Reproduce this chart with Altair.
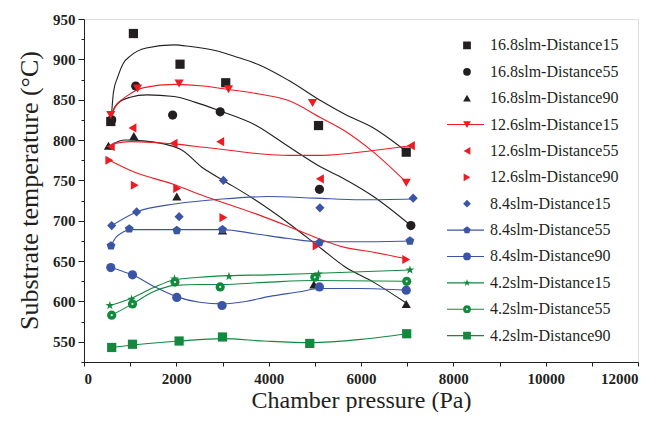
import altair as alt
import pandas as pd

# ---------------- series names, colours, markers ----------------
series = [
    "16.8slm-Distance15", "16.8slm-Distance55", "16.8slm-Distance90",
    "12.6slm-Distance15", "12.6slm-Distance55", "12.6slm-Distance90",
    "8.4slm-Distance15", "8.4slm-Distance55", "8.4slm-Distance90",
    "4.2slm-Distance15", "4.2slm-Distance55", "4.2slm-Distance90",
]
colors = ["#231f20"] * 3 + ["#ed1c24"] * 3 + ["#3a55a5"] * 3 + ["#12893f"] * 3
PENT = "M0,-1L0.951,-0.309L0.588,0.809L-0.588,0.809L-0.951,-0.309Z"
STAR = ("M0,-1L0.2245,-0.309L0.951,-0.309L0.363,0.118L0.588,0.809L0,0.382"
        "L-0.588,0.809L-0.363,0.118L-0.951,-0.309L-0.2245,-0.309Z")
shapes = ["square", "circle", "triangle-up", "triangle-down", "triangle-left",
          "triangle-right", "diamond", PENT, "circle", STAR, "circle", "square"]
legend_has_line = [False, False, False, True, False, False,
                   False, True, True, True, True, True]

# ---------------- measured points (pressure Pa, temperature C) ----------------
s1_x = [580, 1070, 2080, 3070, 5080, 6980]
s1_y = [823, 932, 894, 871, 818, 785]
s2_x = [600, 1120, 1920, 2950, 5100, 7080]
s2_y = [825, 867, 831, 835, 739, 694]
s3_x = [530, 1080, 2010, 3000, 4980, 6980]
s3_y = [793, 805, 730, 688, 621, 597]
s4_x = [580, 1160, 2060, 3130, 4950, 6980]
s4_y = [831, 864, 870, 863, 846, 747]
s5_x = [580, 1050, 1940, 2950, 5110, 7080]
s5_y = [792, 815, 796, 798, 752, 793]
s6_x = [550, 1100, 2020, 3020, 5040, 6980]
s6_y = [775, 744, 740, 704, 669, 652]
s7_x = [600, 1140, 2060, 3020, 5110, 7130]
s7_y = [694, 711, 705, 750, 716, 728]
s8_x = [585, 980, 2010, 3000, 5100, 7060]
s8_y = [669, 690, 688, 689, 673, 675]
s9_x = [580, 1050, 2010, 2990, 5100, 6980]
s9_y = [642, 633, 605, 595, 618, 614]
s10_x = [560, 1030, 1960, 3140, 5080, 7060]
s10_y = [595, 603, 628, 631, 634, 639]
s11_x = [600, 1050, 1970, 2950, 5000, 6990]
s11_y = [583, 597, 624, 618, 630, 625]
s12_x = [600, 1050, 2060, 3000, 4890, 6990]
s12_y = [543, 547, 551, 556, 548, 560]

# ---------------- trend curves ----------------
c1_x = [590, 640, 730, 850, 1000, 1350, 1950, 2300, 2840, 3300, 3800, 4430, 5150, 5650, 6270, 6980]
c1_y = [826, 860, 878, 895, 904, 914, 918, 916, 911, 903, 893, 874, 848, 832, 815, 786]
c2_x = [590, 640, 720, 1000, 1360, 1950, 2400, 2950, 3700, 4430, 5150, 5600, 6270, 7080]
c2_y = [826, 838, 845, 853, 856, 854, 847, 836, 819, 792, 766, 753, 730, 694]
c3_x = [560, 640, 900, 1285, 2079, 2585, 3018, 3704, 4430, 5150, 5650, 6270, 6980]
c3_y = [788, 795, 800, 799, 789, 765, 750, 726, 697, 665, 643, 624, 598]
c4_x = [578, 700, 940, 1300, 1950, 2585, 3090, 3800, 4430, 5150, 5600, 6270, 6975]
c4_y = [830, 843, 855, 865, 869, 867, 863, 857, 849, 827, 813, 785, 748]
c5_x = [560, 700, 1000, 1500, 2000, 2600, 3200, 3800, 4430, 5150, 5650, 6270, 7080]
c5_y = [792, 796, 798, 797, 795, 791, 787, 783, 781, 781, 783, 787, 793]
c6_x = [550, 1100, 1950, 2585, 3200, 3800, 4430, 5076, 5650, 6270, 6975]
c6_y = [775, 760, 745, 731, 719, 707, 693, 678, 667, 661, 653]
c7_x = [600, 1140, 2000, 3000, 4000, 5000, 6000, 7130]
c7_y = [694, 711, 721, 727, 730, 728, 726, 727]
c8_x = [585, 700, 850, 1000, 1500, 2000, 3000, 3700, 4430, 5100, 6000, 7060]
c8_y = [669, 680, 686, 689, 689, 689, 689, 684, 678, 674, 674, 675]
c9_x = [580, 800, 1050, 1500, 2000, 2500, 3000, 3500, 4000, 4680, 5100, 6000, 6975]
c9_y = [642, 638, 633, 619, 606, 599, 597, 600, 606, 612, 616, 616, 614]
c10_x = [560, 1030, 1500, 1960, 2500, 3140, 4000, 5080, 7060]
c10_y = [595, 604, 617, 627, 630, 632, 633, 635, 639]
c11_x = [600, 1050, 1500, 1970, 2500, 2950, 4000, 5000, 6990]
c11_y = [583, 597, 612, 620, 621, 621, 624, 626, 625]
c12_x = [600, 1050, 2060, 3000, 3900, 4890, 6000, 6990]
c12_y = [543, 546, 551, 554, 551, 549, 553, 560]

pts = [(s1_x, s1_y), (s2_x, s2_y), (s3_x, s3_y), (s4_x, s4_y), (s5_x, s5_y), (s6_x, s6_y),
       (s7_x, s7_y), (s8_x, s8_y), (s9_x, s9_y), (s10_x, s10_y), (s11_x, s11_y), (s12_x, s12_y)]
crv = [(c1_x, c1_y), (c2_x, c2_y), (c3_x, c3_y), (c4_x, c4_y), (c5_x, c5_y), (c6_x, c6_y),
       (c7_x, c7_y), (c8_x, c8_y), (c9_x, c9_y), (c10_x, c10_y), (c11_x, c11_y), (c12_x, c12_y)]

rows = []
for name, (xs, ys) in zip(series, pts):
    for a, b in zip(xs, ys):
        rows.append({"series": name, "pressure": a, "temp": b})
df_pts = pd.DataFrame(rows)

rows = []
for name, (xs, ys) in zip(series, crv):
    for a, b in zip(xs, ys):
        rows.append({"series": name, "pressure": a, "temp": b})
df_crv = pd.DataFrame(rows)

df_leg = pd.DataFrame({"series": series, "line": legend_has_line})

FONT = "Liberation Serif, Times New Roman, serif"

color_enc = alt.Color("series:N", scale=alt.Scale(domain=series, range=colors), legend=None)
shape_enc = alt.Shape("series:N", scale=alt.Scale(domain=series, range=shapes), legend=None)

x_enc = alt.X("pressure:Q",
              scale=alt.Scale(domain=[0, 12000], nice=False),
              axis=alt.Axis(values=list(range(0, 12001, 1000)),
                            labelExpr="datum.value % 2000 == 0 ? datum.label : ''",
                            format="d", grid=False, tickSize=4, labelPadding=5,
                            labelFont=FONT, labelFontWeight="bold", labelFontSize=15,
                            labelColor="#231f20", tickColor="#231f20", domainColor="#231f20",
                            title="Chamber pressure (Pa)", titleFont=FONT, titleFontSize=24,
                            titleFontWeight="normal", titleColor="#231f20", titleY=26,
                            titleBaseline="top"))
y_enc = alt.Y("temp:Q",
              scale=alt.Scale(domain=[525, 950], nice=False, zero=False),
              axis=alt.Axis(values=list(range(525, 951, 25)),
                            labelExpr="datum.value % 50 == 0 ? datum.label : ''",
                            grid=False,
                            tickSize={"condition": {"test": "datum.value % 50 == 0", "value": 6}, "value": 3},
                            labelPadding=3,
                            labelFont=FONT, labelFontWeight="bold", labelFontSize=15,
                            labelColor="#231f20", tickColor="#231f20", domainColor="#231f20",
                            title="Substrate temperature (°C)", titleFont=FONT, titleFontSize=26,
                            titleFontWeight="normal", titleColor="#231f20",
                            titleX=-42, titleY=171))

curves = alt.Chart(df_crv).mark_line(interpolate="monotone", strokeWidth=1.1).encode(
    x=x_enc, y=y_enc, color=color_enc, detail="series:N", order="pressure:Q")

points = alt.Chart(df_pts).mark_point(filled=True, size=85, opacity=1).encode(
    x=x_enc, y=y_enc, color=color_enc, shape=shape_enc)

highlight = alt.Chart(df_pts).transform_filter(
    alt.datum.series == "4.2slm-Distance55").mark_circle(size=5, color="#d5eedb", opacity=1).encode(
    x=x_enc, y=y_enc)

main = alt.layer(curves, points, highlight)

leg_y = alt.Y("series:N", sort=series, scale=alt.Scale(type="point", padding=2.4), axis=None)

leg_lines = alt.Chart(df_leg).transform_filter(alt.datum.line).mark_rule(strokeWidth=1.1).encode(
    x=alt.value(363), x2=alt.value(400), y=leg_y, color=color_enc)
leg_pts = alt.Chart(df_leg).mark_point(filled=True, size=60, opacity=1).encode(
    x=alt.value(383), y=leg_y, color=color_enc, shape=shape_enc)
leg_hl = alt.Chart(df_leg).transform_filter(
    alt.datum.series == "4.2slm-Distance55").mark_circle(size=4, color="#d5eedb", opacity=1).encode(
    x=alt.value(383), y=leg_y)
leg_text = alt.Chart(df_leg).mark_text(align="left", baseline="middle", font=FONT,
                                       fontSize=16, color="#231f20").encode(
    x=alt.value(406), y=leg_y, text="series:N")

legend = alt.layer(leg_lines, leg_pts, leg_hl, leg_text)

chart = alt.layer(main, legend).resolve_scale(y="independent").properties(
    width=554, height=343,
    autosize=alt.AutoSizeParams(type="none"),
    padding={"left": 76, "top": 11, "right": 12, "bottom": 50},
).configure_view(stroke="#231f20", strokeWidth=1).configure(background="white")

chart.save("out.html", embed_options={"renderer": "svg", "actions": False})
